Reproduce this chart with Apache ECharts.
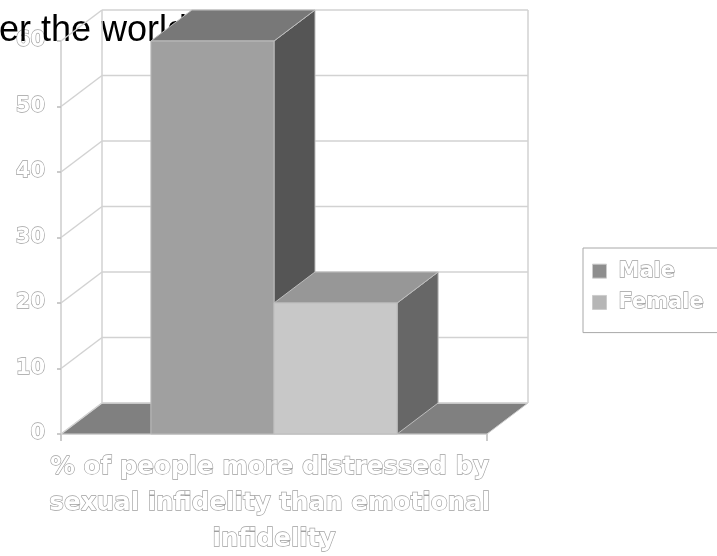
<!DOCTYPE html>
<html>
<head>
<meta charset="utf-8">
<script src="https://cdn.jsdelivr.net/npm/echarts@6/dist/echarts.min.js"></script>
<style>
  html, body { margin: 0; padding: 0; background: #ffffff; }
  #chart { width: 717px; height: 556px; }
</style>
</head>
<body>
<div id="chart"></div>
<script>
// ---- chart data ----
const categories = ['% of people more distressed by sexual infidelity than emotional infidelity'];
const seriesNames = ['Male', 'Female'];
const maleValues = [60];
const femaleValues = [20];
const yTicks = [0, 10, 20, 30, 40, 50, 60];
const titleText = 'er the world';

// ---- 3D look ----
const DEPTH_X = 41;      // horizontal offset of the back plane
const DEPTH_Y = -31;     // vertical offset of the back plane
const BAR_FRACTION = 0.289; // bar width as a share of the category band
const faceColors = [
  { front: '#a0a0a0', top: '#787878', side: '#555555', legend: '#8e8e8e' },
  { front: '#c8c8c8', top: '#979797', side: '#676767', legend: '#b6b6b6' }
];
const wallLine = { stroke: '#d2d2d2', lineWidth: 1.5 };
const hollowText = { color: '#ffffff', textBorderColor: '#a0a0a0', textBorderWidth: 1.3 };
const labelFont = 'DejaVu Sans';

const yMax = yTicks[yTicks.length - 1];

function seg(x1, y1, x2, y2) {
  return { type: 'line', shape: { x1, y1, x2, y2 }, style: wallLine, silent: true };
}

// floor, back wall and side-wall gridlines, one item per tick value
function renderWalls(params, api) {
  const cs = params.coordSys;
  const y = api.coord([0, api.value(1)])[1];
  const x0 = cs.x, x1 = cs.x + cs.width;
  const children = [];
  if (params.dataIndex === 0) {
    children.push({
      type: 'polygon',
      shape: { points: [[x0, y], [x1, y], [x1 + DEPTH_X, y + DEPTH_Y], [x0 + DEPTH_X, y + DEPTH_Y]] },
      style: { fill: '#808080', stroke: '#cfcfcf', lineWidth: 1 }
    });
    const yTop = api.coord([0, yMax])[1];
    children.push(seg(x0 + DEPTH_X, y + DEPTH_Y, x0 + DEPTH_X, yTop + DEPTH_Y));
    children.push(seg(x1 + DEPTH_X, y + DEPTH_Y, x1 + DEPTH_X, yTop + DEPTH_Y));
  }
  children.push(seg(x0, y, x0 + DEPTH_X, y + DEPTH_Y));
  children.push(seg(x0 + DEPTH_X, y + DEPTH_Y, x1 + DEPTH_X, y + DEPTH_Y));
  return { type: 'group', children };
}

// a box-shaped bar: front face, top face and right side face
function renderBar(params, api) {
  const idx = params.seriesIndex - 1;
  const col = faceColors[idx];
  const cat = api.value(0);
  const top = api.coord([cat, api.value(1)]);
  const base = api.coord([cat, 0]);
  const band = api.size([1, 0])[0];
  const w = band * BAR_FRACTION;
  const left = top[0] - w * seriesNames.length / 2 + idx * w;
  const right = left + w;
  const yT = top[1], yB = base[1];
  const edge = { stroke: '#bdbdbd', lineWidth: 1 };
  return {
    type: 'group',
    children: [
      { type: 'polygon', shape: { points: [[right, yB], [right + DEPTH_X, yB + DEPTH_Y], [right + DEPTH_X, yT + DEPTH_Y], [right, yT]] },
        style: Object.assign({ fill: col.side }, edge) },
      { type: 'polygon', shape: { points: [[left, yT], [right, yT], [right + DEPTH_X, yT + DEPTH_Y], [left + DEPTH_X, yT + DEPTH_Y]] },
        style: Object.assign({ fill: col.top }, edge) },
      { type: 'rect', shape: { x: left, y: yT, width: w, height: yB - yT },
        style: Object.assign({ fill: col.front }, edge) }
    ]
  };
}

const chart = echarts.init(document.getElementById('chart'), null, { renderer: 'canvas' });

chart.setOption({
  animation: false,
  backgroundColor: '#ffffff',
  graphic: [{
    type: 'text',
    zlevel: 0,
    z: 1,
    x: -1,
    y: 31,
    style: {
      text: titleText,
      font: '36px "Liberation Sans", Arial, sans-serif',
      fill: '#000000',
      verticalAlign: 'middle',
      align: 'left'
    }
  }],
  grid: { left: 61, top: 41, width: 426, height: 393, containLabel: false, outerBoundsMode: 'none' },
  legend: {
    data: seriesNames,
    orient: 'vertical',
    left: 583,
    top: 248,
    padding: [12, 60, 19, 9],
    itemGap: 9,
    itemWidth: 14,
    itemHeight: 14,
    icon: 'rect',
    borderColor: '#a8a8a8',
    borderWidth: 1,
    itemStyle: { borderColor: '#cccccc', borderWidth: 1 },
    textStyle: Object.assign({
      fontFamily: labelFont, fontWeight: 'bold', fontSize: 21, padding: [0, 0, 0, 7]
    }, hollowText)
  },
  xAxis: {
    type: 'category',
    data: categories,
    z: 0,
    axisLine: { lineStyle: { color: '#cccccc', width: 1.5 } },
    axisTick: { show: true, length: 7, lineStyle: { color: '#bbbbbb', width: 1.5 } },
    axisLabel: Object.assign({
      fontFamily: labelFont, fontWeight: 'bold', fontSize: 24.6, lineHeight: 36,
      margin: 16, width: 460, overflow: 'break', interval: 0
    }, hollowText),
    splitLine: { show: false }
  },
  yAxis: {
    type: 'value',
    min: 0,
    max: yMax,
    interval: 10,
    z: 0,
    axisLine: { show: true, lineStyle: { color: '#cccccc', width: 1.5 } },
    axisTick: { show: true, length: 4, lineStyle: { color: '#bbbbbb', width: 1.5 } },
    axisLabel: Object.assign({
      fontFamily: labelFont, fontWeight: 'bold', fontSize: 21, margin: 16
    }, hollowText),
    splitLine: { show: false }
  },
  series: [
    {
      type: 'custom',
      name: 'walls',
      z: 1,
      silent: true,
      renderItem: renderWalls,
      encode: { x: 0, y: 1 },
      data: yTicks.map(v => [0, v])
    },
    {
      type: 'custom',
      name: seriesNames[0],
      zlevel: 1,
      z: 3,
      renderItem: renderBar,
      itemStyle: { color: faceColors[0].legend },
      encode: { x: 0, y: 1 },
      data: maleValues.map((v, i) => [i, v])
    },
    {
      type: 'custom',
      name: seriesNames[1],
      zlevel: 1,
      z: 4,
      renderItem: renderBar,
      itemStyle: { color: faceColors[1].legend },
      encode: { x: 0, y: 1 },
      data: femaleValues.map((v, i) => [i, v])
    }
  ]
});
</script>
</body>
</html>
